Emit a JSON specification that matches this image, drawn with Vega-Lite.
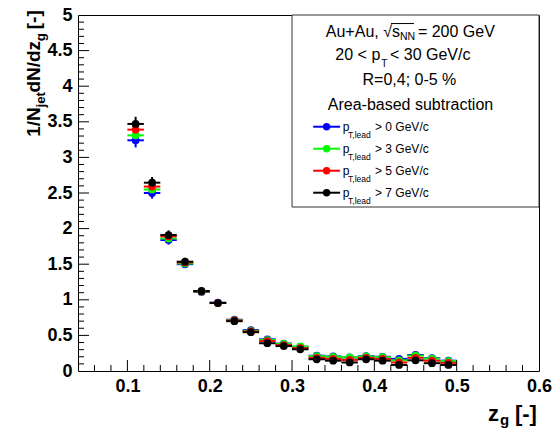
{
  "$schema": "https://vega.github.io/schema/vega-lite/v6.json",
  "width": 461,
  "height": 356,
  "autosize": {"type": "none"},
  "padding": {"left": 78, "top": 15, "right": 16, "bottom": 64},
  "background": "white",
  "config": {
    "view": {"stroke": "black", "strokeWidth": 1},
    "axis": {"grid": false, "domain": false, "title": null, "ticks": false, "tickSize": 0, "labelPadding": 6, "labelColor": "black", "labelFont": "Liberation Sans", "labelFontWeight": "bold", "labelFontSize": 18, "labelFlush": false, "labelOverlap": false},
    "text": {"font": "Liberation Sans", "color": "black"}
  },
  "data": {"values": [
    {"s":"0","x":0.11,"lo":0.10,"hi":0.12,"y":3.24,"e":0.1},
    {"s":"0","x":0.13,"lo":0.12,"hi":0.14,"y":2.50,"e":0.08},
    {"s":"0","x":0.15,"lo":0.14,"hi":0.16,"y":1.84,"e":0.065},
    {"s":"0","x":0.17,"lo":0.16,"hi":0.18,"y":1.50,"e":0.055},
    {"s":"0","x":0.19,"lo":0.18,"hi":0.20,"y":1.11,"e":0.045},
    {"s":"0","x":0.21,"lo":0.20,"hi":0.22,"y":0.96,"e":0.04},
    {"s":"0","x":0.23,"lo":0.22,"hi":0.24,"y":0.72,"e":0.035},
    {"s":"0","x":0.25,"lo":0.24,"hi":0.26,"y":0.575,"e":0.03},
    {"s":"0","x":0.27,"lo":0.26,"hi":0.28,"y":0.445,"e":0.03},
    {"s":"0","x":0.29,"lo":0.28,"hi":0.30,"y":0.385,"e":0.03},
    {"s":"0","x":0.31,"lo":0.30,"hi":0.32,"y":0.34,"e":0.03},
    {"s":"0","x":0.33,"lo":0.32,"hi":0.34,"y":0.215,"e":0.02},
    {"s":"0","x":0.35,"lo":0.34,"hi":0.36,"y":0.205,"e":0.02},
    {"s":"0","x":0.37,"lo":0.36,"hi":0.38,"y":0.19,"e":0.02},
    {"s":"0","x":0.39,"lo":0.38,"hi":0.40,"y":0.21,"e":0.02},
    {"s":"0","x":0.41,"lo":0.40,"hi":0.42,"y":0.20,"e":0.02},
    {"s":"0","x":0.43,"lo":0.42,"hi":0.44,"y":0.17,"e":0.02},
    {"s":"0","x":0.45,"lo":0.44,"hi":0.46,"y":0.225,"e":0.02},
    {"s":"0","x":0.47,"lo":0.46,"hi":0.48,"y":0.18,"e":0.02},
    {"s":"0","x":0.49,"lo":0.48,"hi":0.50,"y":0.145,"e":0.02},
    {"s":"3","x":0.11,"lo":0.10,"hi":0.12,"y":3.31,"e":0.1},
    {"s":"3","x":0.13,"lo":0.12,"hi":0.14,"y":2.55,"e":0.08},
    {"s":"3","x":0.15,"lo":0.14,"hi":0.16,"y":1.86,"e":0.065},
    {"s":"3","x":0.17,"lo":0.16,"hi":0.18,"y":1.51,"e":0.055},
    {"s":"3","x":0.19,"lo":0.18,"hi":0.20,"y":1.115,"e":0.045},
    {"s":"3","x":0.21,"lo":0.20,"hi":0.22,"y":0.955,"e":0.04},
    {"s":"3","x":0.23,"lo":0.22,"hi":0.24,"y":0.715,"e":0.035},
    {"s":"3","x":0.25,"lo":0.24,"hi":0.26,"y":0.565,"e":0.03},
    {"s":"3","x":0.27,"lo":0.26,"hi":0.28,"y":0.435,"e":0.03},
    {"s":"3","x":0.29,"lo":0.28,"hi":0.30,"y":0.38,"e":0.03},
    {"s":"3","x":0.31,"lo":0.30,"hi":0.32,"y":0.345,"e":0.03},
    {"s":"3","x":0.33,"lo":0.32,"hi":0.34,"y":0.21,"e":0.02},
    {"s":"3","x":0.35,"lo":0.34,"hi":0.36,"y":0.20,"e":0.02},
    {"s":"3","x":0.37,"lo":0.36,"hi":0.38,"y":0.19,"e":0.02},
    {"s":"3","x":0.39,"lo":0.38,"hi":0.40,"y":0.205,"e":0.02},
    {"s":"3","x":0.41,"lo":0.40,"hi":0.42,"y":0.195,"e":0.02},
    {"s":"3","x":0.43,"lo":0.42,"hi":0.44,"y":0.15,"e":0.02},
    {"s":"3","x":0.45,"lo":0.44,"hi":0.46,"y":0.215,"e":0.02},
    {"s":"3","x":0.47,"lo":0.46,"hi":0.48,"y":0.175,"e":0.02},
    {"s":"3","x":0.49,"lo":0.48,"hi":0.50,"y":0.14,"e":0.02},
    {"s":"5","x":0.11,"lo":0.10,"hi":0.12,"y":3.39,"e":0.1},
    {"s":"5","x":0.13,"lo":0.12,"hi":0.14,"y":2.59,"e":0.08},
    {"s":"5","x":0.15,"lo":0.14,"hi":0.16,"y":1.89,"e":0.065},
    {"s":"5","x":0.17,"lo":0.16,"hi":0.18,"y":1.525,"e":0.055},
    {"s":"5","x":0.19,"lo":0.18,"hi":0.20,"y":1.12,"e":0.045},
    {"s":"5","x":0.21,"lo":0.20,"hi":0.22,"y":0.955,"e":0.04},
    {"s":"5","x":0.23,"lo":0.22,"hi":0.24,"y":0.71,"e":0.035},
    {"s":"5","x":0.25,"lo":0.24,"hi":0.26,"y":0.555,"e":0.03},
    {"s":"5","x":0.27,"lo":0.26,"hi":0.28,"y":0.42,"e":0.03},
    {"s":"5","x":0.29,"lo":0.28,"hi":0.30,"y":0.365,"e":0.03},
    {"s":"5","x":0.31,"lo":0.30,"hi":0.32,"y":0.32,"e":0.03},
    {"s":"5","x":0.33,"lo":0.32,"hi":0.34,"y":0.185,"e":0.02},
    {"s":"5","x":0.35,"lo":0.34,"hi":0.36,"y":0.17,"e":0.02},
    {"s":"5","x":0.37,"lo":0.36,"hi":0.38,"y":0.155,"e":0.02},
    {"s":"5","x":0.39,"lo":0.38,"hi":0.40,"y":0.185,"e":0.02},
    {"s":"5","x":0.41,"lo":0.40,"hi":0.42,"y":0.17,"e":0.02},
    {"s":"5","x":0.43,"lo":0.42,"hi":0.44,"y":0.12,"e":0.02},
    {"s":"5","x":0.45,"lo":0.44,"hi":0.46,"y":0.185,"e":0.02},
    {"s":"5","x":0.47,"lo":0.46,"hi":0.48,"y":0.145,"e":0.02},
    {"s":"5","x":0.49,"lo":0.48,"hi":0.50,"y":0.115,"e":0.02},
    {"s":"7","x":0.11,"lo":0.10,"hi":0.12,"y":3.47,"e":0.1},
    {"s":"7","x":0.13,"lo":0.12,"hi":0.14,"y":2.645,"e":0.08},
    {"s":"7","x":0.15,"lo":0.14,"hi":0.16,"y":1.91,"e":0.065},
    {"s":"7","x":0.17,"lo":0.16,"hi":0.18,"y":1.535,"e":0.055},
    {"s":"7","x":0.19,"lo":0.18,"hi":0.20,"y":1.124,"e":0.045},
    {"s":"7","x":0.21,"lo":0.20,"hi":0.22,"y":0.955,"e":0.04},
    {"s":"7","x":0.23,"lo":0.22,"hi":0.24,"y":0.70,"e":0.035},
    {"s":"7","x":0.25,"lo":0.24,"hi":0.26,"y":0.545,"e":0.03},
    {"s":"7","x":0.27,"lo":0.26,"hi":0.28,"y":0.39,"e":0.03},
    {"s":"7","x":0.29,"lo":0.28,"hi":0.30,"y":0.35,"e":0.03},
    {"s":"7","x":0.31,"lo":0.30,"hi":0.32,"y":0.305,"e":0.03},
    {"s":"7","x":0.33,"lo":0.32,"hi":0.34,"y":0.165,"e":0.02},
    {"s":"7","x":0.35,"lo":0.34,"hi":0.36,"y":0.145,"e":0.02},
    {"s":"7","x":0.37,"lo":0.36,"hi":0.38,"y":0.12,"e":0.02},
    {"s":"7","x":0.39,"lo":0.38,"hi":0.40,"y":0.165,"e":0.02},
    {"s":"7","x":0.41,"lo":0.40,"hi":0.42,"y":0.145,"e":0.02},
    {"s":"7","x":0.43,"lo":0.42,"hi":0.44,"y":0.085,"e":0.02},
    {"s":"7","x":0.45,"lo":0.44,"hi":0.46,"y":0.15,"e":0.02},
    {"s":"7","x":0.47,"lo":0.46,"hi":0.48,"y":0.11,"e":0.02},
    {"s":"7","x":0.49,"lo":0.48,"hi":0.50,"y":0.085,"e":0.02}
  ]},
  "layer": [
    {
      "mark": {"type": "rule", "strokeWidth": 2},
      "encoding": {
        "x": {"field": "lo", "type": "quantitative", "scale": {"domain": [0.04, 0.6], "nice": false, "zero": false},
              "axis": {"title": null, "tickCount": 500, "ticks": false, "tickSize": 0, "labelPadding": 6, "values": [0.1,0.2,0.3,0.4,0.5,0.6], "format": ".1f"}},
        "x2": {"field": "hi"},
        "y": {"field": "y", "type": "quantitative", "scale": {"domain": [0, 5], "nice": false, "zero": false},
              "axis": {"title": null, "tickCount": 500, "ticks": false, "tickSize": 0, "labelPadding": 6, "values": [0,0.5,1,1.5,2,2.5,3,3.5,4,4.5,5], "format": "~g"}},
        "color": {"field": "s", "type": "nominal", "scale": {"domain": ["0","3","5","7"], "range": ["#0000ff","#00ff00","#ff0000","#000000"]}, "legend": null}
      }
    },
    {
      "mark": {"type": "errorbar", "ticks": false, "thickness": 2},
      "encoding": {
        "x": {"field": "x", "type": "quantitative", "title": null},
        "y": {"field": "y", "type": "quantitative", "title": null},
        "yError": {"field": "e"},
        "color": {"field": "s", "type": "nominal", "legend": null}
      }
    },
    {
      "mark": {"type": "point", "filled": true, "opacity": 1, "size": 60, "shape": "circle"},
      "encoding": {
        "x": {"field": "x", "type": "quantitative", "title": null},
        "y": {"field": "y", "type": "quantitative", "title": null},
        "color": {"field": "s", "type": "nominal", "legend": null}
      }
    },
    {
      "data": {"values": [{}]},
      "encoding": {"y": {"datum": 0}, "y2": {"datum": 0.0843}},
      "layer": [
        {"mark": {"type": "rule", "color": "black", "strokeWidth": 1}, "encoding": {"x": {"datum": 0.06}}},
        {"mark": {"type": "rule", "color": "black", "strokeWidth": 1}, "encoding": {"x": {"datum": 0.08}}},
        {"mark": {"type": "rule", "color": "black", "strokeWidth": 1}, "encoding": {"x": {"datum": 0.12}}},
        {"mark": {"type": "rule", "color": "black", "strokeWidth": 1}, "encoding": {"x": {"datum": 0.14}}},
        {"mark": {"type": "rule", "color": "black", "strokeWidth": 1}, "encoding": {"x": {"datum": 0.16}}},
        {"mark": {"type": "rule", "color": "black", "strokeWidth": 1}, "encoding": {"x": {"datum": 0.18}}},
        {"mark": {"type": "rule", "color": "black", "strokeWidth": 1}, "encoding": {"x": {"datum": 0.22}}},
        {"mark": {"type": "rule", "color": "black", "strokeWidth": 1}, "encoding": {"x": {"datum": 0.24}}},
        {"mark": {"type": "rule", "color": "black", "strokeWidth": 1}, "encoding": {"x": {"datum": 0.26}}},
        {"mark": {"type": "rule", "color": "black", "strokeWidth": 1}, "encoding": {"x": {"datum": 0.28}}},
        {"mark": {"type": "rule", "color": "black", "strokeWidth": 1}, "encoding": {"x": {"datum": 0.32}}},
        {"mark": {"type": "rule", "color": "black", "strokeWidth": 1}, "encoding": {"x": {"datum": 0.34}}},
        {"mark": {"type": "rule", "color": "black", "strokeWidth": 1}, "encoding": {"x": {"datum": 0.36}}},
        {"mark": {"type": "rule", "color": "black", "strokeWidth": 1}, "encoding": {"x": {"datum": 0.38}}},
        {"mark": {"type": "rule", "color": "black", "strokeWidth": 1}, "encoding": {"x": {"datum": 0.42}}},
        {"mark": {"type": "rule", "color": "black", "strokeWidth": 1}, "encoding": {"x": {"datum": 0.44}}},
        {"mark": {"type": "rule", "color": "black", "strokeWidth": 1}, "encoding": {"x": {"datum": 0.46}}},
        {"mark": {"type": "rule", "color": "black", "strokeWidth": 1}, "encoding": {"x": {"datum": 0.48}}},
        {"mark": {"type": "rule", "color": "black", "strokeWidth": 1}, "encoding": {"x": {"datum": 0.52}}},
        {"mark": {"type": "rule", "color": "black", "strokeWidth": 1}, "encoding": {"x": {"datum": 0.54}}},
        {"mark": {"type": "rule", "color": "black", "strokeWidth": 1}, "encoding": {"x": {"datum": 0.56}}},
        {"mark": {"type": "rule", "color": "black", "strokeWidth": 1}, "encoding": {"x": {"datum": 0.58}}}
      ]
    },
    {
      "data": {"values": [{}]},
      "encoding": {"y": {"datum": 0}, "y2": {"datum": 0.1545}},
      "layer": [
        {"mark": {"type": "rule", "color": "black", "strokeWidth": 1}, "encoding": {"x": {"datum": 0.1}}},
        {"mark": {"type": "rule", "color": "black", "strokeWidth": 1}, "encoding": {"x": {"datum": 0.2}}},
        {"mark": {"type": "rule", "color": "black", "strokeWidth": 1}, "encoding": {"x": {"datum": 0.3}}},
        {"mark": {"type": "rule", "color": "black", "strokeWidth": 1}, "encoding": {"x": {"datum": 0.4}}},
        {"mark": {"type": "rule", "color": "black", "strokeWidth": 1}, "encoding": {"x": {"datum": 0.5}}}
      ]
    },
    {
      "data": {"values": [{}]},
      "encoding": {"x": {"datum": 0.04}, "x2": {"datum": 0.0473}},
      "layer": [
        {"mark": {"type": "rule", "color": "black", "strokeWidth": 1}, "encoding": {"y": {"datum": 0.1}}},
        {"mark": {"type": "rule", "color": "black", "strokeWidth": 1}, "encoding": {"y": {"datum": 0.2}}},
        {"mark": {"type": "rule", "color": "black", "strokeWidth": 1}, "encoding": {"y": {"datum": 0.3}}},
        {"mark": {"type": "rule", "color": "black", "strokeWidth": 1}, "encoding": {"y": {"datum": 0.4}}},
        {"mark": {"type": "rule", "color": "black", "strokeWidth": 1}, "encoding": {"y": {"datum": 0.6}}},
        {"mark": {"type": "rule", "color": "black", "strokeWidth": 1}, "encoding": {"y": {"datum": 0.7}}},
        {"mark": {"type": "rule", "color": "black", "strokeWidth": 1}, "encoding": {"y": {"datum": 0.8}}},
        {"mark": {"type": "rule", "color": "black", "strokeWidth": 1}, "encoding": {"y": {"datum": 0.9}}},
        {"mark": {"type": "rule", "color": "black", "strokeWidth": 1}, "encoding": {"y": {"datum": 1.1}}},
        {"mark": {"type": "rule", "color": "black", "strokeWidth": 1}, "encoding": {"y": {"datum": 1.2}}},
        {"mark": {"type": "rule", "color": "black", "strokeWidth": 1}, "encoding": {"y": {"datum": 1.3}}},
        {"mark": {"type": "rule", "color": "black", "strokeWidth": 1}, "encoding": {"y": {"datum": 1.4}}},
        {"mark": {"type": "rule", "color": "black", "strokeWidth": 1}, "encoding": {"y": {"datum": 1.6}}},
        {"mark": {"type": "rule", "color": "black", "strokeWidth": 1}, "encoding": {"y": {"datum": 1.7}}},
        {"mark": {"type": "rule", "color": "black", "strokeWidth": 1}, "encoding": {"y": {"datum": 1.8}}},
        {"mark": {"type": "rule", "color": "black", "strokeWidth": 1}, "encoding": {"y": {"datum": 1.9}}},
        {"mark": {"type": "rule", "color": "black", "strokeWidth": 1}, "encoding": {"y": {"datum": 2.1}}},
        {"mark": {"type": "rule", "color": "black", "strokeWidth": 1}, "encoding": {"y": {"datum": 2.2}}},
        {"mark": {"type": "rule", "color": "black", "strokeWidth": 1}, "encoding": {"y": {"datum": 2.3}}},
        {"mark": {"type": "rule", "color": "black", "strokeWidth": 1}, "encoding": {"y": {"datum": 2.4}}},
        {"mark": {"type": "rule", "color": "black", "strokeWidth": 1}, "encoding": {"y": {"datum": 2.6}}},
        {"mark": {"type": "rule", "color": "black", "strokeWidth": 1}, "encoding": {"y": {"datum": 2.7}}},
        {"mark": {"type": "rule", "color": "black", "strokeWidth": 1}, "encoding": {"y": {"datum": 2.8}}},
        {"mark": {"type": "rule", "color": "black", "strokeWidth": 1}, "encoding": {"y": {"datum": 2.9}}},
        {"mark": {"type": "rule", "color": "black", "strokeWidth": 1}, "encoding": {"y": {"datum": 3.1}}},
        {"mark": {"type": "rule", "color": "black", "strokeWidth": 1}, "encoding": {"y": {"datum": 3.2}}},
        {"mark": {"type": "rule", "color": "black", "strokeWidth": 1}, "encoding": {"y": {"datum": 3.3}}},
        {"mark": {"type": "rule", "color": "black", "strokeWidth": 1}, "encoding": {"y": {"datum": 3.4}}},
        {"mark": {"type": "rule", "color": "black", "strokeWidth": 1}, "encoding": {"y": {"datum": 3.6}}},
        {"mark": {"type": "rule", "color": "black", "strokeWidth": 1}, "encoding": {"y": {"datum": 3.7}}},
        {"mark": {"type": "rule", "color": "black", "strokeWidth": 1}, "encoding": {"y": {"datum": 3.8}}},
        {"mark": {"type": "rule", "color": "black", "strokeWidth": 1}, "encoding": {"y": {"datum": 3.9}}},
        {"mark": {"type": "rule", "color": "black", "strokeWidth": 1}, "encoding": {"y": {"datum": 4.1}}},
        {"mark": {"type": "rule", "color": "black", "strokeWidth": 1}, "encoding": {"y": {"datum": 4.2}}},
        {"mark": {"type": "rule", "color": "black", "strokeWidth": 1}, "encoding": {"y": {"datum": 4.3}}},
        {"mark": {"type": "rule", "color": "black", "strokeWidth": 1}, "encoding": {"y": {"datum": 4.4}}},
        {"mark": {"type": "rule", "color": "black", "strokeWidth": 1}, "encoding": {"y": {"datum": 4.6}}},
        {"mark": {"type": "rule", "color": "black", "strokeWidth": 1}, "encoding": {"y": {"datum": 4.7}}},
        {"mark": {"type": "rule", "color": "black", "strokeWidth": 1}, "encoding": {"y": {"datum": 4.8}}},
        {"mark": {"type": "rule", "color": "black", "strokeWidth": 1}, "encoding": {"y": {"datum": 4.9}}}
      ]
    },
    {
      "data": {"values": [{}]},
      "encoding": {"x": {"datum": 0.04}, "x2": {"datum": 0.0534}},
      "layer": [
        {"mark": {"type": "rule", "color": "black", "strokeWidth": 1}, "encoding": {"y": {"datum": 0.5}}},
        {"mark": {"type": "rule", "color": "black", "strokeWidth": 1}, "encoding": {"y": {"datum": 1}}},
        {"mark": {"type": "rule", "color": "black", "strokeWidth": 1}, "encoding": {"y": {"datum": 1.5}}},
        {"mark": {"type": "rule", "color": "black", "strokeWidth": 1}, "encoding": {"y": {"datum": 2}}},
        {"mark": {"type": "rule", "color": "black", "strokeWidth": 1}, "encoding": {"y": {"datum": 2.5}}},
        {"mark": {"type": "rule", "color": "black", "strokeWidth": 1}, "encoding": {"y": {"datum": 3}}},
        {"mark": {"type": "rule", "color": "black", "strokeWidth": 1}, "encoding": {"y": {"datum": 3.5}}},
        {"mark": {"type": "rule", "color": "black", "strokeWidth": 1}, "encoding": {"y": {"datum": 4}}},
        {"mark": {"type": "rule", "color": "black", "strokeWidth": 1}, "encoding": {"y": {"datum": 4.5}}}
      ]
    },
    {"data": {"values": [{}]}, "mark": {"type": "rect", "fill": "white", "stroke": "#333333", "strokeWidth": 1},
     "encoding": {"x": {"datum": 0.30}, "x2": {"datum": 0.6}, "y": {"datum": 5}, "y2": {"datum": 2.303}}},
    {"data": {"values": [{}]}, "mark": {"type": "text", "text": "Au+Au, √s", "align": "right", "baseline": "alphabetic", "fontSize": 16},
     "encoding": {"x": {"datum": 0.4311}, "y": {"datum": 4.695}}},
    {"data": {"values": [{}]}, "mark": {"type": "text", "text": "NN", "align": "left", "baseline": "alphabetic", "fontSize": 10.5},
     "encoding": {"x": {"datum": 0.4311}, "y": {"datum": 4.655}}},
    {"data": {"values": [{}]}, "mark": {"type": "text", "text": "= 200 GeV", "align": "left", "baseline": "alphabetic", "fontSize": 16},
     "encoding": {"x": {"datum": 0.4529}, "y": {"datum": 4.695}}},
    {"data": {"values": [{}]}, "mark": {"type": "rule", "stroke": "black", "strokeWidth": 1},
     "encoding": {"x": {"datum": 0.4202}, "x2": {"datum": 0.4481}, "y": {"datum": 4.88}}},
    {"data": {"values": [{}]}, "mark": {"type": "text", "text": "20 < p", "align": "right", "baseline": "alphabetic", "fontSize": 16},
     "encoding": {"x": {"datum": 0.4072}, "y": {"datum": 4.368}}},
    {"data": {"values": [{}]}, "mark": {"type": "text", "text": "T", "align": "left", "baseline": "alphabetic", "fontSize": 10},
     "encoding": {"x": {"datum": 0.4084}, "y": {"datum": 4.274}}},
    {"data": {"values": [{}]}, "mark": {"type": "text", "text": "< 30 GeV/c", "align": "left", "baseline": "alphabetic", "fontSize": 16},
     "encoding": {"x": {"datum": 0.419}, "y": {"datum": 4.368}}},
    {"data": {"values": [{}]}, "mark": {"type": "text", "text": "R=0,4; 0-5 %", "align": "center", "baseline": "alphabetic", "fontSize": 16},
     "encoding": {"x": {"datum": 0.4426}, "y": {"datum": 4.017}}},
    {"data": {"values": [{}]}, "mark": {"type": "text", "text": "Area-based subtraction", "align": "center", "baseline": "alphabetic", "fontSize": 16},
     "encoding": {"x": {"datum": 0.4439}, "y": {"datum": 3.666}}},

    {"data": {"values": [{}]}, "mark": {"type": "rule", "stroke": "#0000ff", "strokeWidth": 2},
     "encoding": {"x": {"datum": 0.3257}, "x2": {"datum": 0.3584}, "y": {"datum": 3.431}}},
    {"data": {"values": [{}]}, "mark": {"type": "point", "filled": true, "opacity": 1, "size": 55, "shape": "circle", "color": "#0000ff"},
     "encoding": {"x": {"datum": 0.342}, "y": {"datum": 3.431}}},
    {"data": {"values": [{}]}, "mark": {"type": "text", "text": "p", "align": "left", "baseline": "alphabetic", "fontSize": 12},
     "encoding": {"x": {"datum": 0.3616}, "y": {"datum": 3.375}}},
    {"data": {"values": [{}]}, "mark": {"type": "text", "text": "T,lead", "align": "left", "baseline": "alphabetic", "fontSize": 8.5},
     "encoding": {"x": {"datum": 0.368}, "y": {"datum": 3.270}}},
    {"data": {"values": [{}]}, "mark": {"type": "text", "text": "> 0 GeV/c", "align": "left", "baseline": "alphabetic", "fontSize": 12},
     "encoding": {"x": {"datum": 0.4008}, "y": {"datum": 3.375}}},

    {"data": {"values": [{}]}, "mark": {"type": "rule", "stroke": "#00ff00", "strokeWidth": 2},
     "encoding": {"x": {"datum": 0.3257}, "x2": {"datum": 0.3584}, "y": {"datum": 3.122}}},
    {"data": {"values": [{}]}, "mark": {"type": "point", "filled": true, "opacity": 1, "size": 55, "shape": "circle", "color": "#00ff00"},
     "encoding": {"x": {"datum": 0.342}, "y": {"datum": 3.122}}},
    {"data": {"values": [{}]}, "mark": {"type": "text", "text": "p", "align": "left", "baseline": "alphabetic", "fontSize": 12},
     "encoding": {"x": {"datum": 0.3616}, "y": {"datum": 3.066}}},
    {"data": {"values": [{}]}, "mark": {"type": "text", "text": "T,lead", "align": "left", "baseline": "alphabetic", "fontSize": 8.5},
     "encoding": {"x": {"datum": 0.368}, "y": {"datum": 2.961}}},
    {"data": {"values": [{}]}, "mark": {"type": "text", "text": "> 3 GeV/c", "align": "left", "baseline": "alphabetic", "fontSize": 12},
     "encoding": {"x": {"datum": 0.4008}, "y": {"datum": 3.066}}},

    {"data": {"values": [{}]}, "mark": {"type": "rule", "stroke": "#ff0000", "strokeWidth": 2},
     "encoding": {"x": {"datum": 0.3257}, "x2": {"datum": 0.3584}, "y": {"datum": 2.813}}},
    {"data": {"values": [{}]}, "mark": {"type": "point", "filled": true, "opacity": 1, "size": 55, "shape": "circle", "color": "#ff0000"},
     "encoding": {"x": {"datum": 0.342}, "y": {"datum": 2.813}}},
    {"data": {"values": [{}]}, "mark": {"type": "text", "text": "p", "align": "left", "baseline": "alphabetic", "fontSize": 12},
     "encoding": {"x": {"datum": 0.3616}, "y": {"datum": 2.757}}},
    {"data": {"values": [{}]}, "mark": {"type": "text", "text": "T,lead", "align": "left", "baseline": "alphabetic", "fontSize": 8.5},
     "encoding": {"x": {"datum": 0.368}, "y": {"datum": 2.652}}},
    {"data": {"values": [{}]}, "mark": {"type": "text", "text": "> 5 GeV/c", "align": "left", "baseline": "alphabetic", "fontSize": 12},
     "encoding": {"x": {"datum": 0.4008}, "y": {"datum": 2.757}}},

    {"data": {"values": [{}]}, "mark": {"type": "rule", "stroke": "#000000", "strokeWidth": 2},
     "encoding": {"x": {"datum": 0.3257}, "x2": {"datum": 0.3584}, "y": {"datum": 2.504}}},
    {"data": {"values": [{}]}, "mark": {"type": "point", "filled": true, "opacity": 1, "size": 55, "shape": "circle", "color": "#000000"},
     "encoding": {"x": {"datum": 0.342}, "y": {"datum": 2.504}}},
    {"data": {"values": [{}]}, "mark": {"type": "text", "text": "p", "align": "left", "baseline": "alphabetic", "fontSize": 12},
     "encoding": {"x": {"datum": 0.3616}, "y": {"datum": 2.448}}},
    {"data": {"values": [{}]}, "mark": {"type": "text", "text": "T,lead", "align": "left", "baseline": "alphabetic", "fontSize": 8.5},
     "encoding": {"x": {"datum": 0.368}, "y": {"datum": 2.343}}},
    {"data": {"values": [{}]}, "mark": {"type": "text", "text": "> 7 GeV/c", "align": "left", "baseline": "alphabetic", "fontSize": 12},
     "encoding": {"x": {"datum": 0.4008}, "y": {"datum": 2.448}}},

    {"data": {"values": [{}]}, "mark": {"type": "text", "text": "1/N", "angle": 270, "align": "left", "baseline": "alphabetic", "fontSize": 19, "fontWeight": "bold"},
     "encoding": {"x": {"datum": -0.006}, "y": {"datum": 3.29}}},
    {"data": {"values": [{}]}, "mark": {"type": "text", "text": "jet", "angle": 270, "align": "left", "baseline": "alphabetic", "fontSize": 13.3, "fontWeight": "bold"},
     "encoding": {"x": {"datum": 0.0}, "y": {"datum": 3.70}}},
    {"data": {"values": [{}]}, "mark": {"type": "text", "text": "dN/dz", "angle": 270, "align": "left", "baseline": "alphabetic", "fontSize": 19, "fontWeight": "bold"},
     "encoding": {"x": {"datum": -0.006}, "y": {"datum": 3.91}}},
    {"data": {"values": [{}]}, "mark": {"type": "text", "text": "g", "angle": 270, "align": "left", "baseline": "alphabetic", "fontSize": 13.3, "fontWeight": "bold"},
     "encoding": {"x": {"datum": 0.0}, "y": {"datum": 4.63}}},
    {"data": {"values": [{}]}, "mark": {"type": "text", "text": "[-]", "angle": 270, "align": "left", "baseline": "alphabetic", "fontSize": 19, "fontWeight": "bold"},
     "encoding": {"x": {"datum": -0.006}, "y": {"datum": 4.80}}},

    {"data": {"values": [{}]}, "mark": {"type": "text", "text": "z", "align": "left", "baseline": "alphabetic", "fontSize": 22, "fontWeight": "bold"},
     "encoding": {"x": {"datum": 0.538}, "y": {"datum": -0.702}}},
    {"data": {"values": [{}]}, "mark": {"type": "text", "text": "g", "align": "left", "baseline": "alphabetic", "fontSize": 15, "fontWeight": "bold"},
     "encoding": {"x": {"datum": 0.5526}, "y": {"datum": -0.758}}},
    {"data": {"values": [{}]}, "mark": {"type": "text", "text": "[-]", "align": "left", "baseline": "alphabetic", "fontSize": 22, "fontWeight": "bold"},
     "encoding": {"x": {"datum": 0.5708}, "y": {"datum": -0.702}}}
  ]
}
